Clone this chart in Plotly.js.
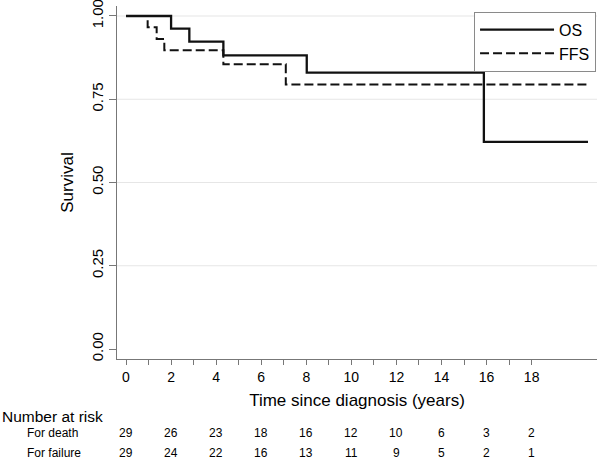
<!DOCTYPE html>
<html>
<head>
<meta charset="utf-8">
<script src="https://cdn.plot.ly/plotly-3.0.1.min.js"></script>
<style>html,body{margin:0;padding:0;background:#fff;}#chart{width:600px;height:461px;}</style>
</head>
<body>
<div id="chart"></div>
<script>
// Kaplan-Meier step points (time in years, survival probability)
var osTime = [0, 2.0, 2.81, 4.32, 8.02, 15.88, 20.5];
var osSurv = [1.0, 0.962, 0.923, 0.882, 0.830, 0.622, 0.622];
var ffsTime = [0, 0.96, 1.36, 1.70, 4.32, 7.09, 20.5];
var ffsSurv = [1.0, 0.966, 0.931, 0.897, 0.855, 0.794, 0.794];

// Number at risk table
var riskTimes = [0, 2, 4, 6, 8, 10, 12, 14, 16, 18];
var riskDeath = [29, 26, 23, 18, 16, 12, 10, 6, 3, 2];
var riskFailure = [29, 24, 22, 16, 13, 11, 9, 5, 2, 1];

// Axis ticks
var xTickVals = [0,1,2,3,4,5,6,7,8,9,10,11,12,13,14,15,16,17,18];
var xTickText = ["0","","2","","4","","6","","8","","10","","12","","14","","16","","18"];
var yTickVals = [0, 0.25, 0.5, 0.75, 1.0];

var FONT = "Liberation Sans, Arial, sans-serif";

var traces = [
  {
    x: ffsTime, y: ffsSurv, type: "scatter", mode: "lines", name: "FFS",
    line: {shape: "hv", color: "#111", width: 2, dash: "9px,4px"},
    legendrank: 2, hoverinfo: "skip"
  },
  {
    x: osTime, y: osSurv, type: "scatter", mode: "lines", name: "OS",
    line: {shape: "hv", color: "#111", width: 2.3},
    legendrank: 1, hoverinfo: "skip"
  }
];

var annotations = [];
annotations.push({xref: "paper", yref: "paper", x: -0.2438, y: -0.164, xanchor: "left", yanchor: "middle",
  text: "Number at risk", showarrow: false, font: {family: FONT, size: 15.5, color: "#000"}});
annotations.push({xref: "paper", yref: "paper", x: -0.1917, y: -0.210, xanchor: "left", yanchor: "middle",
  text: "For death", showarrow: false, font: {family: FONT, size: 12, color: "#000"}});
annotations.push({xref: "paper", yref: "paper", x: -0.1917, y: -0.266, xanchor: "left", yanchor: "middle",
  text: "For failure", showarrow: false, font: {family: FONT, size: 12, color: "#000"}});
for (var i = 0; i < riskTimes.length; i++) {
  annotations.push({xref: "x", yref: "paper", x: riskTimes[i], y: -0.210, xanchor: "center", yanchor: "middle",
    text: String(riskDeath[i]), showarrow: false, font: {family: FONT, size: 12, color: "#000"}});
  annotations.push({xref: "x", yref: "paper", x: riskTimes[i], y: -0.266, xanchor: "center", yanchor: "middle",
    text: String(riskFailure[i]), showarrow: false, font: {family: FONT, size: 12, color: "#000"}});
}

var shapes = [];
yTickVals.forEach(function (v) {
  if (v > 0) {
    shapes.push({type: "line", xref: "paper", yref: "y", x0: 0, x1: 1, y0: v, y1: v,
      line: {color: "#e6e6e6", width: 1.2}, layer: "below"});
  }
});

var layout = {
  width: 600, height: 461,
  margin: {l: 117, r: 3, t: 6, b: 102},
  paper_bgcolor: "#fff", plot_bgcolor: "#fff",
  font: {family: FONT, color: "#000"},
  showlegend: true,
  legend: {
    x: 0.998, xanchor: "right", y: 0.984, yanchor: "top",
    bordercolor: "#8a8a8a", borderwidth: 1, bgcolor: "#fff",
    font: {family: FONT, size: 16, color: "#000"},
    itemwidth: 74, tracegroupgap: 0
  },
  xaxis: {
    range: [-0.40, 20.90],
    tickmode: "array", tickvals: xTickVals, ticktext: xTickText,
    ticks: "outside", ticklen: 5, tickcolor: "#777", tickwidth: 1,
    showline: true, linecolor: "#777", linewidth: 1,
    showgrid: false, zeroline: false,
    tickfont: {family: FONT, size: 14, color: "#000"},
    title: {text: "Time since diagnosis (years)", font: {family: FONT, size: 17, color: "#000"}, standoff: 10}
  },
  yaxis: {
    range: [-0.03, 1.03],
    tickmode: "array", tickvals: yTickVals, tickformat: ".2f",
    tickangle: -90, ticklabeloverflow: "allow",
    ticks: "outside", ticklen: 7, tickcolor: "#777", tickwidth: 1,
    showline: true, linecolor: "#777", linewidth: 1,
    showgrid: false, zeroline: false,
    tickfont: {family: FONT, size: 15, color: "#000"},
    title: {text: "Survival", font: {family: FONT, size: 17, color: "#000"}, standoff: 11}
  },
  shapes: shapes,
  annotations: annotations
};

Plotly.newPlot("chart", traces, layout, {staticPlot: true, displayModeBar: false});
</script>
</body>
</html>
